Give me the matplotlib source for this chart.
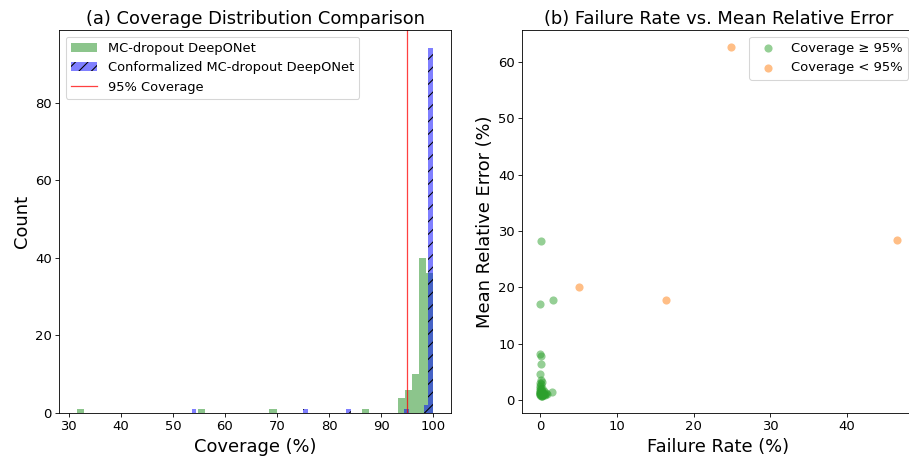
import numpy as np
import matplotlib
matplotlib.use("Agg")
import matplotlib.pyplot as plt

# (a) histogram data: bin centres and counts
mc_values = [32.3, 55.5, 69.2, 87.0, 93.8, 95.2, 96.6, 97.9, 99.3]
mc_counts = [1, 1, 1, 1, 4, 6, 10, 40, 36]
mc_range = (31.6, 100.0)

conf_values = [54.0, 75.3, 83.7, 94.9, 98.6, 99.5]
conf_counts = [1, 1, 1, 1, 2, 94]
conf_range = (53.6, 100.0)

n_bins = 50
target = 95

# (b) scatter data: failure rate (%) and mean relative error (%)
ok_fail = [0.17, 0.04, 1.65, 0.0, 0.05, 0.1, 0.0, 0.1, 1.57,
           0.0, 0.1, 0.2, 0.3, 0.0, 0.5, 0.1, 0.6, 0.0, 0.2, 0.4,
           0.0, 0.3, 0.8, 0.1, 0.0, 0.2, 0.5, 0.0, 0.1, 0.3,
           0.0, 0.6, 0.2, 0.0, 0.4, 0.1, 0.9, 0.0, 0.2, 0.0]
ok_err = [28.2, 17.0, 17.7, 8.1, 7.9, 6.5, 4.7, 3.5, 1.5,
          0.9, 1.0, 1.2, 0.8, 1.4, 1.1, 2.0, 0.9, 2.5, 1.6, 1.3,
          1.8, 2.2, 1.2, 0.8, 3.0, 1.0, 1.7, 1.1, 2.8, 0.9,
          1.5, 1.0, 0.8, 2.1, 0.9, 1.3, 1.1, 1.0, 3.2, 1.2]
bad_fail = [24.9, 5.0, 16.4, 46.5]
bad_err = [62.6, 20.0, 17.8, 28.5]

DPI = 75.75
fig = plt.figure(figsize=(909 / DPI, 462 / DPI), dpi=DPI)
ax1 = fig.add_axes([0.0652, 0.106, 0.431, 0.829])
ax2 = fig.add_axes([0.5746, 0.106, 0.4317, 0.829])

ax1.hist(mc_values, bins=np.linspace(*mc_range, n_bins + 1), weights=mc_counts,
         color="green", alpha=0.45, label="MC-dropout DeepONet")
ax1.hist(conf_values, bins=np.linspace(*conf_range, n_bins + 1), weights=conf_counts,
         facecolor=(0, 0, 1, 0.5), hatch="//", edgecolor="black", linewidth=0,
         label="Conformalized MC-dropout DeepONet")
ax1.axvline(target, color="red", alpha=0.75, linewidth=1.2, label="95% Coverage")
ax1.set_title("(a) Coverage Distribution Comparison", fontsize=17)
ax1.set_xlabel("Coverage (%)", fontsize=17)
ax1.set_ylabel("Count", fontsize=17)
ax1.tick_params(labelsize=12.5)
ax1.legend(loc="upper left", fontsize=12.4)

ax2.scatter(ok_fail, ok_err, s=60, color="tab:green", alpha=0.5,
            linewidths=0, label="Coverage ≥ 95%")
ax2.scatter(bad_fail, bad_err, s=60, color="tab:orange", alpha=0.5,
            linewidths=0, label="Coverage < 95%")
ax2.set_title("(b) Failure Rate vs. Mean Relative Error", fontsize=17)
ax2.set_xlabel("Failure Rate (%)", fontsize=17)
ax2.set_ylabel("Mean Relative Error (%)", fontsize=17)
ax2.tick_params(labelsize=12.5)
ax2.legend(loc="upper right", fontsize=12.5)

fig.savefig("out.png", dpi=DPI)
